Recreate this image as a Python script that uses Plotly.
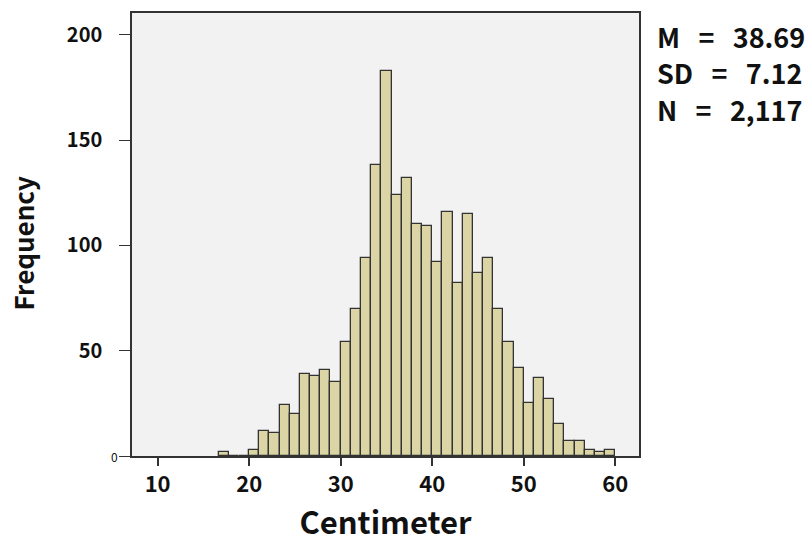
import plotly.graph_objects as go

# Histogram data (bin width 10/9 cm, first bin starts at 16.67 cm)
bin_start = 16.6667
bin_width = 10 / 9
counts = [2, 0, 0, 3, 12, 11, 24, 20, 39, 38, 41, 35, 54, 70, 94, 138, 183,
          124, 132, 110, 109, 92, 116, 82, 115, 87, 94, 70, 54, 42, 25, 37,
          27, 15, 7, 7, 3, 2, 3]
x_ticks = [10, 20, 30, 40, 50, 60]
y_ticks = [0, 50, 100, 150, 200]
y_tick_labels = ["", "50", "100", "150", "200"]
NB = "\u00a0"
stats_lines = ["M" + NB * 3 + "=" + NB * 3 + "38.69",
               "SD" + NB * 3 + "=" + NB * 3 + "7.12",
               "N" + NB * 3 + "=" + NB * 3 + "2,117"]

centers = [bin_start + bin_width * (i + 0.5) for i in range(len(counts))]

FONT = "Noto Sans CJK KR"
INK = "#111111"

fig = go.Figure()
fig.add_trace(go.Bar(
    x=centers, y=counts, width=bin_width,
    marker=dict(color="#dbd5a5", line=dict(color="#333333", width=1.3)),
    hoverinfo="x+y",
))

fig.update_layout(
    width=810, height=543,
    margin=dict(l=132, r=171, t=13, b=87),
    paper_bgcolor="white", plot_bgcolor="#f2f2f2",
    showlegend=False,
    bargap=0,
    font=dict(family=FONT, color=INK),
    xaxis=dict(
        range=[7.2, 62.6], tickmode="array", tickvals=x_ticks,
        ticks="outside", ticklen=8, tickwidth=1.5, tickcolor="#333333",
        showgrid=False, zeroline=False,
        showline=True, linecolor="#333333", linewidth=1.5, mirror=True,
        tickfont=dict(family=FONT, size=22, color=INK, weight="bold"),
        title=dict(text="<b>Centimeter</b>", font=dict(family=FONT, size=31, color=INK),
                   standoff=6),
    ),
    yaxis=dict(
        range=[0, 210.3], tickmode="array", tickvals=y_ticks, ticktext=y_tick_labels,
        ticks="outside", ticklen=11, tickwidth=1.2, tickcolor="#333333",
        showgrid=False, zeroline=False,
        showline=True, linecolor="#333333", linewidth=1.5, mirror=True,
        ticklabelstandoff=13,
        tickfont=dict(family=FONT, size=20, color=INK, weight="bold"),
    ),
)

# y-axis title, centred slightly below the plot-area middle as in the reference
fig.add_annotation(
    xref="paper", yref="paper", x=0, y=0.5, xanchor="center", yanchor="middle",
    xshift=-110, yshift=-9, textangle=-90,
    text="<b>Frequency</b>", showarrow=False,
    font=dict(family=FONT, size=26, color=INK),
)

# small "0" label at the origin
fig.add_annotation(
    xref="paper", yref="y", x=0, y=0, xanchor="right", yanchor="middle",
    xshift=-12, text="0", showarrow=False,
    font=dict(family=FONT, size=12, color=INK),
)

for i, line in enumerate(stats_lines):
    fig.add_annotation(
        xref="paper", yref="paper", x=1.0, y=1.0, xanchor="left", yanchor="middle",
        xshift=16, yshift=-23 - 36.5 * i,
        text="<b>" + line + "</b>", showarrow=False, align="left",
        font=dict(family=FONT, size=27, color=INK),
    )

fig.write_html("out.html")
